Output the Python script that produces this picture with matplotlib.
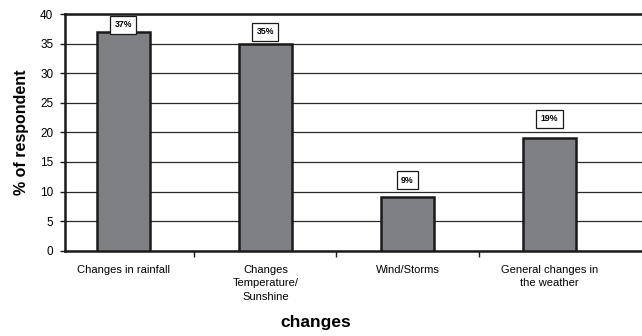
import matplotlib
matplotlib.use("Agg")
import matplotlib.pyplot as plt
import numpy as np

plt.rcParams['font.family'] = ['Liberation Sans', 'DejaVu Sans']

# Survey data
categories = ["Changes in rainfall", "Changes\nTemperature/\nSunshine",
              "Wind/Storms", "General changes in\nthe weather"]
percent = [37, 35, 9, 19]
value_labels = ["37%", "35%", "9%", "19%"]
y_ticks = [0, 5, 10, 15, 20, 25, 30, 35, 40]

# Vertical lift of each value box above its bar (data units)
label_lift = [1.2, 2.0, 2.9, 3.3]

fig = plt.figure(figsize=(6.42, 3.36), dpi=100)
ax = fig.add_axes([0.1012, 0.2539, 0.8988, 0.7044])

x = np.arange(len(categories))
ax.bar(x, percent, width=0.375, color="#7f8083", edgecolor="#1a1a1a",
       linewidth=1.8, zorder=3)

for xi, v, lab, lift in zip(x, percent, value_labels, label_lift):
    ax.text(xi, v + lift, lab, ha="center", va="center", fontsize=6.3,
            fontweight="bold", zorder=4,
            bbox=dict(boxstyle="square,pad=0.5", fc="white", ec="#1a1a1a", lw=0.9))

ax.set_xlim(-0.41, 3.65)
ax.set_ylim(0, 40)
ax.set_yticks(y_ticks)
ax.tick_params(axis="y", direction="out", length=3.5, width=1, pad=5,
               labelsize=8.5, color="#1a1a1a")
ax.yaxis.grid(True, color="#2a2a2a", linewidth=0.9, zorder=0)
ax.set_axisbelow(True)

ax.set_xticks(x)
ax.set_xticklabels(categories, fontsize=8, linespacing=1.45)
ax.tick_params(axis="x", which="major", length=0, pad=10)
ax.set_xticks(x[:-1] + 0.5, minor=True)
ax.tick_params(axis="x", which="minor", direction="out", length=4.5, width=1,
               color="#1a1a1a")

for side in ("left", "top", "bottom"):
    ax.spines[side].set_linewidth(1.8)
    ax.spines[side].set_color("#1a1a1a")
ax.spines["right"].set_visible(False)

ax.set_ylabel("% of respondent", fontsize=11.5, fontweight="bold", labelpad=8)
ax.set_xlabel("changes", fontsize=12.5, fontweight="bold")
ax.xaxis.set_label_coords(0.435, -0.27)

fig.savefig("out.png", dpi=100)
